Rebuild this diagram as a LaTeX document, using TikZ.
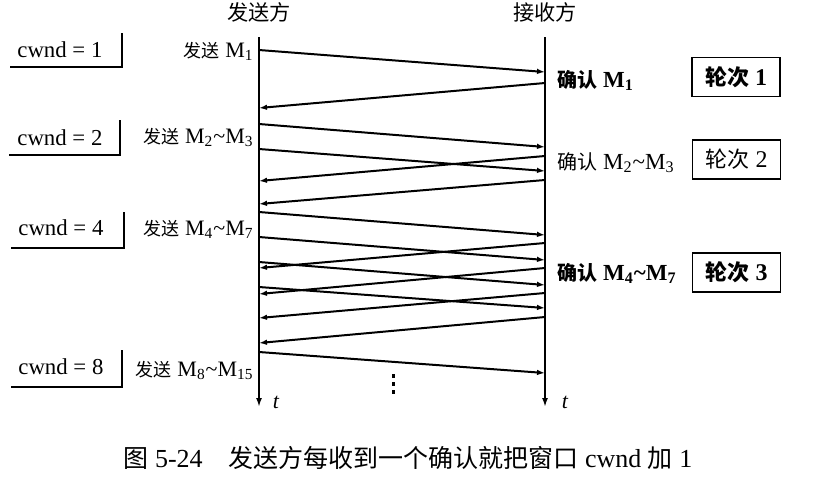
\documentclass[tikz,border=0pt]{standalone}
\usepackage{fontspec}
\setmainfont{Liberation Serif}
\newfontfamily\cjk{Noto Sans CJK SC}
\usetikzlibrary{arrows.meta}
\newcommand{\zh}[2]{{\fontsize{#1}{#1}\cjk #2}}
\newcommand{\Msub}[1]{M\textsubscript{#1}}

\begin{document}
\begin{tikzpicture}[x=0.5pt,y=-0.5pt,
                msg/.style={line width=1pt,-{Latex[length=4pt,width=2.8pt]}},
                axis/.style={line width=1pt,-{Latex[length=4.5pt,width=3pt]}},
                win/.style={inner sep=0pt,font=\fontsize{11.4}{13}\selectfont},
                sendlbl/.style={inner sep=0pt,anchor=base east,font=\fontsize{11}{13}\selectfont},
                acklbl/.style={inner sep=0pt,anchor=base west,font=\fontsize{11.5}{13}\selectfont},
                boldack/.style={acklbl,font=\fontsize{11.5}{13}\selectfont\bfseries},
                round/.style={draw,line width=0.9pt,minimum width=44pt,minimum height=19.5pt,inner sep=0pt,font=\fontsize{12}{14}\selectfont},
                boldround/.style={round,font=\fontsize{12}{14}\selectfont\bfseries}]
                \useasboundingbox (0,0) rectangle (813,478);

                \coordinate (sTop) at (259,37);
                \coordinate (sEnd) at (259,407);
                \coordinate (rTop) at (545,37);
                \coordinate (rEnd) at (545,407);
                \draw[axis] (sTop) -- (sEnd);
                \draw[axis] (rTop) -- (rEnd);
                \node (hS) at (259,12) {\zh{10.6}{发送方}};
                \node (hR) at (545,12) {\zh{10.6}{接收方}};
                \node[font=\fontsize{11}{13}\selectfont\itshape] (tS) at (276,402) {t};
                \node[font=\fontsize{11}{13}\selectfont\itshape] (tR) at (565,402) {t};

                \coordinate (sM1) at (259,50);
                \coordinate (rM1) at (545,72);
                \coordinate (sM2) at (259,124);
                \coordinate (rM2) at (545,147);
                \coordinate (sM3) at (259,149);
                \coordinate (rM3) at (545,171);
                \coordinate (sM4) at (259,212);
                \coordinate (rM4) at (545,235);
                \coordinate (sM5) at (259,237);
                \coordinate (rM5) at (545,260);
                \coordinate (sM6) at (259,262);
                \coordinate (rM6) at (545,285);
                \coordinate (sM7) at (259,287);
                \coordinate (rM7) at (545,308);
                \coordinate (sM8) at (259,352);
                \coordinate (rM8) at (545,373);
                \draw[msg] (sM1) -- (rM1);
                \draw[msg] (sM2) -- (rM2);
                \draw[msg] (sM3) -- (rM3);
                \draw[msg] (sM4) -- (rM4);
                \draw[msg] (sM5) -- (rM5);
                \draw[msg] (sM6) -- (rM6);
                \draw[msg] (sM7) -- (rM7);
                \draw[msg] (sM8) -- (rM8);

                \coordinate (rA1) at (545,83);
                \coordinate (sA1) at (259,108);
                \coordinate (rA2) at (545,156);
                \coordinate (sA2) at (259,181);
                \coordinate (rA3) at (545,180);
                \coordinate (sA3) at (259,204);
                \coordinate (rA4) at (545,243);
                \coordinate (sA4) at (259,268);
                \coordinate (rA5) at (545,268);
                \coordinate (sA5) at (259,294);
                \coordinate (rA6) at (545,293);
                \coordinate (sA6) at (259,318);
                \coordinate (rA7) at (545,317);
                \coordinate (sA7) at (259,343);
                \draw[msg] (rA1) -- (sA1);
                \draw[msg] (rA2) -- (sA2);
                \draw[msg] (rA3) -- (sA3);
                \draw[msg] (rA4) -- (sA4);
                \draw[msg] (rA5) -- (sA5);
                \draw[msg] (rA6) -- (sA6);
                \draw[msg] (rA7) -- (sA7);

                \node[win,anchor=base west] (w1) at (17,57) {cwnd = 1};
                \node[win,anchor=base west] (w2) at (17,145) {cwnd = 2};
                \node[win,anchor=base west] (w4) at (18,235) {cwnd = 4};
                \node[win,anchor=base west] (w8) at (18,374) {cwnd = 8};
                \draw[line width=0.8pt] (10,67) -- (122,67) -- (122,33);
                \draw[line width=0.8pt] (9,155) -- (120,155) -- (120,120);
                \draw[line width=0.8pt] (11,248) -- (124,248) -- (124,212);
                \draw[line width=0.8pt] (11,387) -- (122,387) -- (122,350);

                \node[sendlbl] (send1) at (254,57) {\zh{9}{发送} \Msub{1}};
                \node[sendlbl] (send2) at (254,143) {\zh{9}{发送} \Msub{2}\textasciitilde\Msub{3}};
                \node[sendlbl] (send4) at (254,235) {\zh{9}{发送} \Msub{4}\textasciitilde\Msub{7}};
                \node[sendlbl] (send8) at (254,376) {\zh{9}{发送} \Msub{8}\textasciitilde\Msub{15}};

                \node[boldack] (ack1) at (557,87) {\zh{10}{确认} \Msub{1}};
                \node[acklbl] (ack2) at (557,169) {\zh{10}{确认} \Msub{2}\textasciitilde\Msub{3}};
                \node[boldack] (ack4) at (557,280) {\zh{10}{确认} \Msub{4}\textasciitilde\Msub{7}};

                \node[boldround] (rnd1) at (736,77) {\zh{11}{轮次} 1};
                \node[round] (rnd2) at (736.5,159.5) {\zh{11}{轮次} 2};
                \node[boldround] (rnd3) at (736.5,272.5) {\zh{11}{轮次} 3};

                \foreach \y in {376,384,392}
                    \fill (391.5,\y-2) rectangle +(3,4);

                \node[font=\fontsize{13}{15}\selectfont] (cap) at (408,458) {\zh{12.5}{图} 5-24\quad\zh{12.5}{发送方每收到一个确认就把窗口} cwnd \zh{12.5}{加} 1};
            \end{tikzpicture}
\end{document}
